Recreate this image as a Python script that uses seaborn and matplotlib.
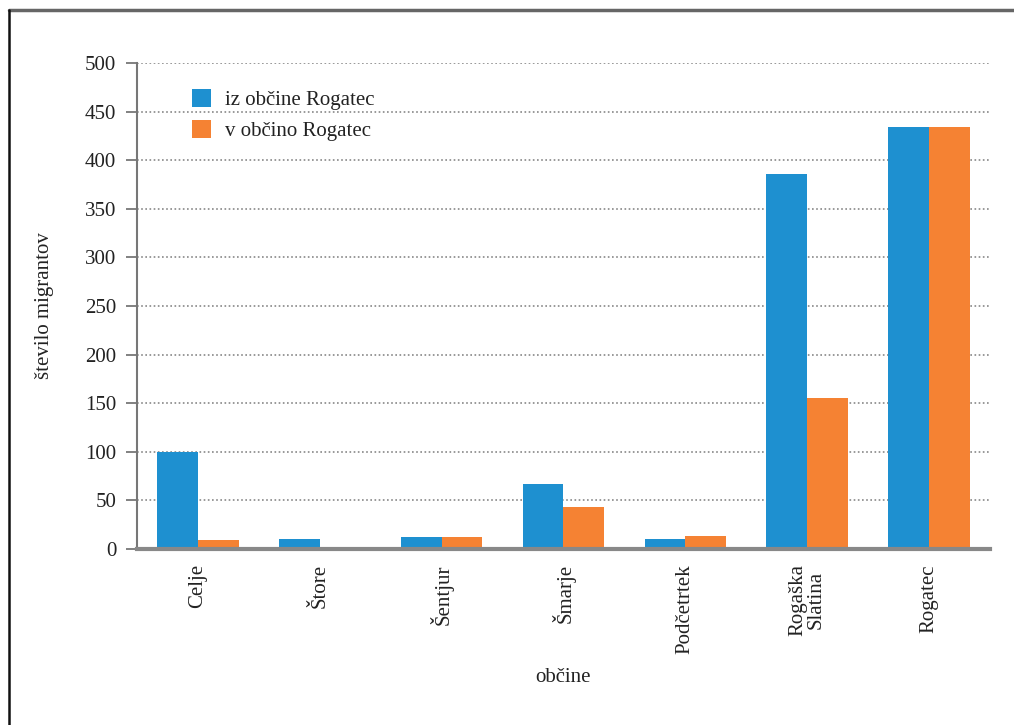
import pandas as pd
import seaborn as sns
import matplotlib.pyplot as plt
from matplotlib.lines import Line2D

# Data
obcine = ["Celje", "Štore", "Šentjur", "Šmarje", "Podčetrtek", "Rogaška\nSlatina", "Rogatec"]
iz_obcine = [100, 10, 12, 67, 10, 386, 434]
v_obcino = [9, 0, 12, 43, 13, 155, 434]
series = ["iz občine Rogatec", "v občino Rogatec"]
colors = ["#1E90D0", "#F58233"]
y_ticks = [0, 50, 100, 150, 200, 250, 300, 350, 400, 450, 500]

df = pd.DataFrame({
    "obcina": obcine * 2,
    "vrednost": iz_obcine + v_obcino,
    "smer": [series[0]] * len(obcine) + [series[1]] * len(obcine),
})

sns.set_theme(style="white")
plt.rcParams['font.family'] = ['Liberation Serif', 'DejaVu Serif']
FS = 15

fig = plt.figure(figsize=(10.14, 7.25), dpi=100)
ax = fig.add_axes([0.1351, 0.2428, 0.8412, 0.6703])

sns.barplot(data=df, x="obcina", y="vrednost", hue="smer", order=obcine,
            hue_order=series, palette=colors, width=0.67, saturation=1,
            edgecolor="none", linewidth=0, ax=ax)

ax.set_ylim(0, 500)
ax.set_xlim(-0.5, len(obcine) - 0.5)
ax.set_yticks(y_ticks)
ax.set_yticklabels([str(t) for t in y_ticks], fontsize=FS, color="#222222")
ax.yaxis.grid(True, linestyle=(0, (1, 1.5)), color="#888888", linewidth=1.2)
ax.set_axisbelow(True)

for s in ["top", "right"]:
    ax.spines[s].set_visible(False)
ax.spines["left"].set_color("#777777")
ax.spines["left"].set_linewidth(1.5)
ax.spines["bottom"].set_color("#888888")
ax.spines["bottom"].set_linewidth(3)

ax.tick_params(axis="y", left=True, length=8, width=1.3, color="#777777", pad=7)
ax.tick_params(axis="x", bottom=False, pad=5)
ax.set_xticks(range(len(obcine)))
ax.set_xticklabels(obcine, rotation=90, fontsize=FS, color="#222222",
                   va="top", ha="center", multialignment="center",
                   linespacing=0.95)

ax.set_xlabel("občine", fontsize=FS, color="#222222", labelpad=10)
ax.set_ylabel("število migrantov", fontsize=FS, color="#222222", labelpad=22)

handles, labels = ax.get_legend_handles_labels()
ax.legend(handles, labels, loc="upper left", bbox_to_anchor=(0.042, 0.985),
          frameon=False, fontsize=FS, handlelength=0.95, handleheight=0.95,
          handletextpad=0.65, labelspacing=0.45, labelcolor="#222222")

# outer frame of the figure (top and left)
fig.add_artist(Line2D([9 / 1014, 1], [1 - 10 / 725, 1 - 10 / 725],
                      transform=fig.transFigure, color="#666666", linewidth=2.5))
fig.add_artist(Line2D([9 / 1014, 9 / 1014], [0, 1 - 10 / 725],
                      transform=fig.transFigure, color="#111111", linewidth=1.8))

fig.savefig("out.png", dpi=100)
